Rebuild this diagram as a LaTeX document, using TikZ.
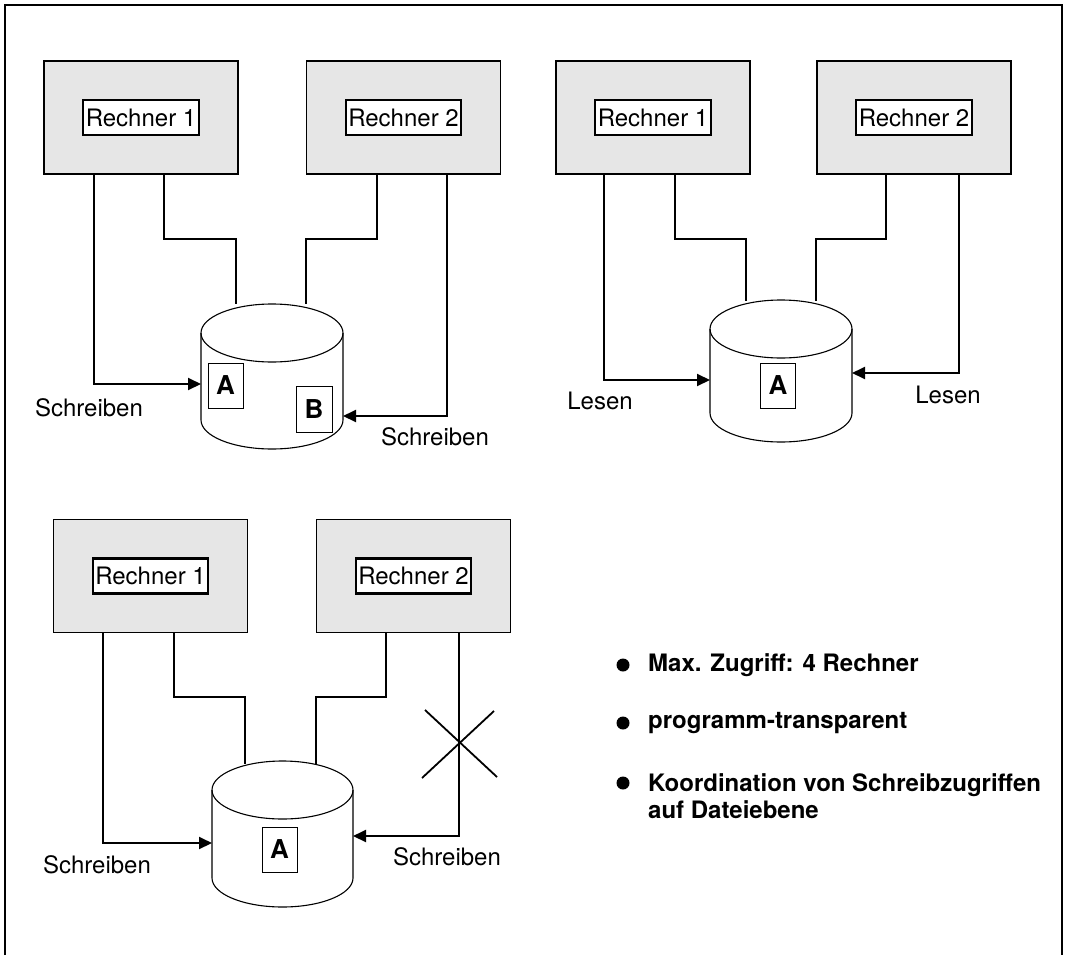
\documentclass[tikz,border=0pt]{standalone}
\usepackage{fontspec}
\setmainfont{TeX Gyre Heros}
\usetikzlibrary{arrows.meta}
\definecolor{boxgray}{RGB}{230,230,230}
\tikzset{
 graybox/.style={draw, line width=1.2pt, fill=boxgray, minimum width=194pt, minimum height=113pt, inner sep=0pt},
 labelbox/.style={draw, line width=2.4pt, fill=white, minimum height=35pt, inner xsep=2.5pt, inner ysep=0pt, font=\fontsize{24}{28}\selectfont},
 letterbox/.style={draw, line width=1pt, fill=white, minimum width=35pt, minimum height=45pt, inner sep=0pt, font=\fontsize{26}{28}\selectfont\bfseries},
 conn/.style={line width=2pt},
 arr/.style={conn, -{Triangle[length=13pt,width=12pt]}},
 cylline/.style={line width=1.1pt},
 lbl/.style={font=\fontsize{24}{28}\selectfont, inner sep=0pt},
 bul/.style={font=\fontsize{24}{27}\selectfont\bfseries, inner sep=0pt, anchor=west, align=left},
 frame/.style={line width=1.4pt},
 cross/.style={line width=1.8pt},
}
\newcommand{\drawcyl}[5]{%
 \draw[cylline] ({#1-#4},#2) -- ({#1-#4},#3) arc[start angle=180, end angle=0, x radius=#4, y radius=#5] -- ({#1+#4},#2);
 \draw[cylline] (#1,#2) ellipse[x radius=#4, y radius=#5];
}
\begin{document}
\begin{tikzpicture}[x=1pt,y=-1pt]
\useasboundingbox (0,0) rectangle (1067,955);
\draw[frame] (5,955) -- (5,5) -- (1062,5) -- (1062,955);

% ---------- top left ----------
\node[graybox] (t1) at (141,117.5) {};
\node[graybox] (t2) at (403.5,117.5) {};
\node[labelbox] (t1l) at (t1) {Rechner 1};
\node[labelbox] (t2l) at (t2) {Rechner 2};
\drawcyl{272}{333}{420}{71}{29}
\coordinate (tlin) at (201,384);
\coordinate (tlout) at (343,416);
\coordinate (tltl) at (236,304);
\coordinate (tltr) at (306,304);
\draw[arr] ([xshift=51pt]t1.south west) |- (tlin);
\draw[conn] ([xshift=121pt]t1.south west) -- ++(0,64) -| (tltl);
\draw[conn] ([xshift=71.5pt]t2.south west) -- ++(0,64) -| (tltr);
\draw[arr] ([xshift=141.5pt]t2.south west) |- (tlout);
\node[letterbox] (tlA) at (225.5,385.5) {A};
\node[letterbox, minimum width=36pt, minimum height=46pt] (tlB) at (314,409) {B};
\node[lbl] (tls1) at (89,408) {Schreiben};
\node[lbl] (tls2) at (435,437) {Schreiben};

% ---------- top right ----------
\node[graybox] (u1) at (653,117.5) {};
\node[graybox] (u2) at (914,117.5) {};
\node[labelbox] (u1l) at (u1) {Rechner 1};
\node[labelbox] (u2l) at (u2) {Rechner 2};
\drawcyl{781}{329}{413}{71}{29}
\coordinate (trin) at (710,380);
\coordinate (trout) at (852,373);
\coordinate (trtl) at (746,301);
\coordinate (trtr) at (816,301);
\draw[arr] ([xshift=49pt]u1.south west) |- (trin);
\draw[conn] ([xshift=120pt]u1.south west) -- ++(0,64) -| (trtl);
\draw[conn] ([xshift=70pt]u2.south west) -- ++(0,64) -| (trtr);
\draw[arr] ([xshift=143pt]u2.south west) |- (trout);
\node[letterbox] (trA) at (778,385.5) {A};
\node[lbl] (trs1) at (600,401) {Lesen};
\node[lbl] (trs2) at (948,395) {Lesen};

% ---------- bottom ----------
\node[graybox] (b1) at (150.5,576) {};
\node[graybox] (b2) at (413.5,576) {};
\node[labelbox] (b1l) at (b1) {Rechner 1};
\node[labelbox] (b2l) at (b2) {Rechner 2};
\drawcyl{282.5}{790}{878}{70.5}{29}
\coordinate (bin) at (212,843);
\coordinate (bout) at (353,836);
\coordinate (btl) at (245,764);
\coordinate (btr) at (316,764);
\draw[arr] ([xshift=50.5pt]b1.south west) |- (bin);
\draw[conn] ([xshift=121.5pt]b1.south west) -- ++(0,64) -| (btl);
\draw[conn] ([xshift=70.5pt]b2.south west) -- ++(0,64) -| (btr);
\draw[arr] ([xshift=143.5pt]b2.south west) |- (bout);
\node[letterbox] (bA) at (279.5,849.5) {A};
\node[lbl] (bs1) at (97,865) {Schreiben};
\node[lbl] (bs2) at (447,857) {Schreiben};
\coordinate (x1a) at (425,710);
\coordinate (x1b) at (497,777);
\coordinate (x2a) at (422,778);
\coordinate (x2b) at (494,711);
\draw[cross] (x1a) -- (x1b);
\draw[cross] (x2a) -- (x2b);

% ---------- bullets ----------
\fill (623,665) circle[radius=6.5];
\fill (623,723) circle[radius=6.5];
\fill (623,783) circle[radius=6.5];
\node[bul] (p1) at (648,665) {Max. Zugriff: 4 Rechner};
\node[bul] (p2) at (648,723) {programm-transparent};
\node[bul] (p3) at (648,796.5) {Koordination von Schreibzugriffen\\auf Dateiebene};
\end{tikzpicture}
\end{document}
